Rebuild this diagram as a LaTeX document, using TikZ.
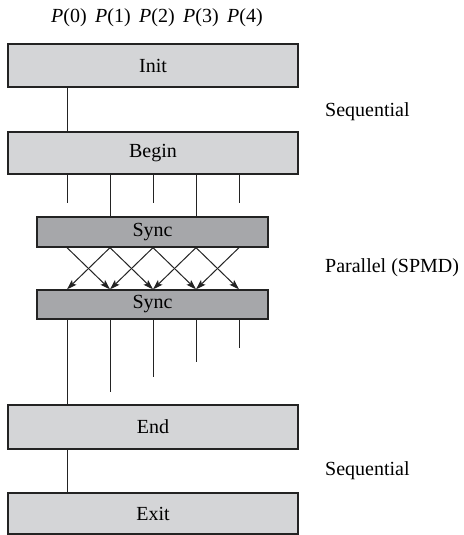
\documentclass[tikz,border=0pt]{standalone}
\usepackage{fontspec}
\setmainfont{Liberation Serif}
\usetikzlibrary{arrows.meta}
\definecolor{boxlight}{RGB}{212,213,215}
\definecolor{boxdark}{RGB}{166,167,170}
\definecolor{edge}{RGB}{35,35,35}
\begin{document}
\begin{tikzpicture}[x=1pt,y=-1pt,
  every node/.style={font=\fontsize{20}{24}\selectfont, text=black},
  bigbox/.style={draw=edge, line width=1.3pt, fill=boxlight, minimum width=290pt, inner sep=0pt},
  syncbox/.style={draw=edge, line width=1.3pt, fill=boxdark, minimum width=231pt, inner sep=0pt},
  conn/.style={draw=edge, line width=1pt},
  arr/.style={conn, -{Stealth[length=10pt,width=6.5pt,inset=2pt]}},
  lbl/.style={anchor=west, inner sep=0pt}
]
\useasboundingbox (0,0) rectangle (463,535);
% process columns
\coordinate (c0) at (67,0);
\coordinate (c1) at (110,0);
\coordinate (c2) at (153,0);
\coordinate (c3) at (196,0);
\coordinate (c4) at (239,0);
% boxes
\node[bigbox, minimum height=43pt] (init) at (153,65.5) {Init};
\node[bigbox, minimum height=42pt] (begin) at (153,153) {Begin};
\node[syncbox, minimum height=30pt] (sync1) at (152.5,232) {Sync};
\node[syncbox, minimum height=29pt] (sync2) at (152.5,304.5) {Sync};
\node[bigbox, minimum height=44pt] (end) at (153,427) {End};
\node[bigbox, minimum height=41pt] (exit) at (153,513.5) {Exit};
% process labels
\node (p0) at (69,18) {\textit{P}(0)};
\node (p1) at (113,18) {\textit{P}(1)};
\node (p2) at (157,18) {\textit{P}(2)};
\node (p3) at (201,18) {\textit{P}(3)};
\node (p4) at (245,18) {\textit{P}(4)};
% side labels
\node[lbl] (seq1) at (325,112) {Sequential};
\node[lbl] (par) at (325,268) {Parallel (SPMD)};
\node[lbl] (seq2) at (325,471) {Sequential};
% init -> begin
\draw[conn] (init.south -| c0) -- (begin.north -| c0);
% begin -> sync1
\coordinate (b0) at (67,203);
\coordinate (b2) at (153,203);
\coordinate (b4) at (239,203);
\draw[conn] (begin.south -| c0) -- (b0);
\draw[conn] (begin.south -| c2) -- (b2);
\draw[conn] (begin.south -| c4) -- (b4);
\draw[conn] (begin.south -| c1) -- (sync1.north -| c1);
\draw[conn] (begin.south -| c3) -- (sync1.north -| c3);
% exchange arrows
\foreach \a/\b in {c0/c1,c1/c0,c1/c2,c2/c1,c2/c3,c3/c2,c3/c4,c4/c3}{
  \draw[arr] (sync1.south -| \a) -- (sync2.north -| \b);
}
% sync2 -> end
\coordinate (e1) at (110,392);
\coordinate (e2) at (153,377);
\coordinate (e3) at (196,362);
\coordinate (e4) at (239,348);
\draw[conn] (sync2.south -| c0) -- (end.north -| c0);
\draw[conn] (sync2.south -| c1) -- (e1);
\draw[conn] (sync2.south -| c2) -- (e2);
\draw[conn] (sync2.south -| c3) -- (e3);
\draw[conn] (sync2.south -| c4) -- (e4);
% end -> exit
\draw[conn] (end.south -| c0) -- (exit.north -| c0);
\end{tikzpicture}
\end{document}
